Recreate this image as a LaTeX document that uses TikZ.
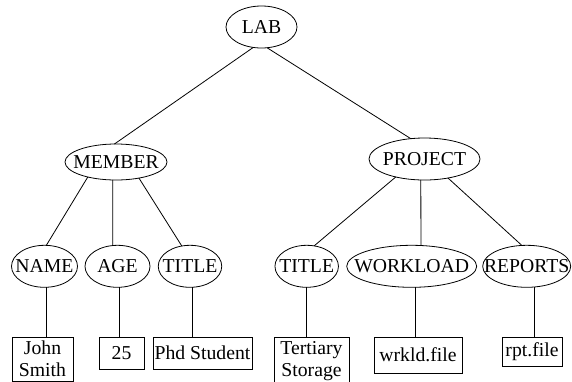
\documentclass[tikz,border=0pt]{standalone}
\usepackage{fontspec}
\setmainfont{Liberation Serif}
\usetikzlibrary{shapes.geometric}
\newcommand{\zw}[1]{\makebox[0pt][c]{#1}}
\begin{document}
\begin{tikzpicture}[x=1pt,y=-1pt,
  every node/.style={font=\fontsize{19.7}{22}\selectfont, inner sep=0pt, outer sep=0pt},
  oval/.style={draw, ellipse, line width=0.8pt},
  leaf/.style={draw, rectangle, line width=0.8pt, anchor=north, align=center},
  link/.style={line width=0.8pt}]
\useasboundingbox (0,0) rectangle (572,381);
% ellipses
\node[oval, minimum width=71, minimum height=42] (lab) at (261.5,27) {\zw{LAB}};
\node[oval, minimum width=102, minimum height=36] (member) at (116,162) {\zw{MEMBER}};
\node[oval, minimum width=111, minimum height=42] (project) at (424.5,159) {\zw{PROJECT}};
\node[oval, minimum width=66, minimum height=42] (name) at (44.5,266.3) {\zw{NAME}};
\node[oval, minimum width=65, minimum height=42] (age) at (117.5,266.3) {\zw{AGE}};
\node[oval, minimum width=63.5, minimum height=42] (title) at (190,266.3) {\zw{TITLE}};
\node[oval, minimum width=63.5, minimum height=42] (title2) at (306.7,266.3) {\zw{TITLE}};
\node[oval, minimum width=130, minimum height=42] (workload) at (411.7,266.3) {\zw{WORKLOAD}};
\node[oval, minimum width=88, minimum height=42] (reports) at (526.7,266.3) {\zw{REPORTS}};
% leaves
\node[leaf, minimum width=61, minimum height=44] (js) at (42.5,337) {John\\Smith};
\node[leaf, minimum width=45, minimum height=32] (b25) at (121.5,337) {25};
\node[leaf, minimum width=99, minimum height=32] (phd) at (202.5,337) {Phd Student};
\node[leaf, minimum width=75, minimum height=48] (ts) at (311.5,337) {Tertiary\\Storage};
\node[leaf, minimum width=88, minimum height=36] (wrk) at (418,337) {wrkld.file};
\node[leaf, minimum width=60, minimum height=29] (rpt) at (532,337) {rpt.file};
% connectors
\draw[link] (lab.248) -- (member.95);
\draw[link] (lab.285) -- (project.124);
\draw[link] (member.208) -- (name.85);
\draw[link] (member.260) -- (age.103);
\draw[link] (member.325) -- (title.112);
\draw[link] (project.212) -- (title2.70);
\draw[link] (project.260.5) -- (workload.66.6);
\draw[link] (project.321) -- (reports.103.5);
\draw[link] (name.275) -- (name.275 |- js.north);
\draw[link] (age.274) -- (age.274 |- b25.north);
\draw[link] (title.277) -- (title.277 |- phd.north);
\draw[link] (title2.south) -- (title2.south |- ts.north);
\draw[link] (workload.281.6) -- (workload.281.6 |- wrk.north);
\draw[link] (reports.290) -- (reports.290 |- rpt.north);
\end{tikzpicture}
\end{document}
